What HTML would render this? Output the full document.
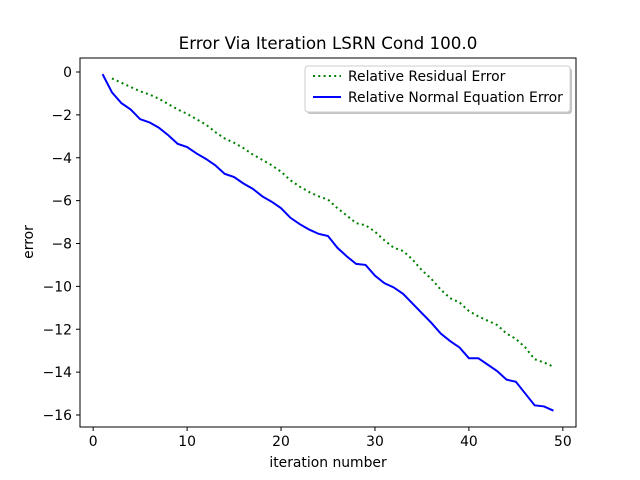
<!DOCTYPE html>
<html><head><meta charset="utf-8"><style>
body{margin:0;background:#fff}
svg{display:block;font-family:"DejaVu Sans","Liberation Sans",sans-serif}
</style></head><body>
<svg id="c" width="640" height="480">
<rect width="640" height="480" fill="#fff"/>
<text x="328" y="49" text-anchor="middle" font-size="16.7">Error Via Iteration LSRN Cond 100.0</text>
<g id="plot"></g>
<rect x="80" y="58" width="496" height="369" fill="none" stroke="#000" stroke-width="1"/>
<text x="328" y="467" text-anchor="middle" font-size="13.9">iteration number</text>
<text transform="translate(33,242) rotate(-90)" text-anchor="middle" font-size="13.9">error</text>
<g>
<rect x="307" y="68" width="265" height="46" rx="3" fill="#888" opacity="0.5"/>
<rect x="305" y="66" width="265" height="46" rx="3" fill="#fff" stroke="#ccc"/>
<line x1="313" y1="76" x2="341" y2="76" stroke="green" stroke-width="2" stroke-dasharray="2,3.3"/>
<text x="348" y="81" font-size="13.9">Relative Residual Error</text>
<line x1="313" y1="97" x2="341" y2="97" stroke="blue" stroke-width="2"/>
<text x="348" y="102" font-size="13.9">Relative Normal Equation Error</text>
</g>
</svg>
<script>
const xTicks=[0,10,20,30,40,50];
const yTicks=[0,-2,-4,-6,-8,-10,-12,-14,-16];
const blueX=[1,2,3,4,5,6,7,8,9,10,11,12,13,14,15,16,17,18,19,20,21,22,23,24,25,26,27,28,29,30,31,32,33,34,35,36,37,38,39,40,41,42,43,44,45,46,47,48,49];
const blueY=[-0.1,-0.95,-1.45,-1.75,-2.2,-2.35,-2.6,-2.95,-3.35,-3.5,-3.8,-4.05,-4.35,-4.75,-4.9,-5.2,-5.45,-5.8,-6.05,-6.35,-6.8,-7.1,-7.35,-7.55,-7.65,-8.2,-8.6,-8.95,-9.0,-9.5,-9.85,-10.05,-10.35,-10.8,-11.25,-11.7,-12.2,-12.55,-12.85,-13.35,-13.35,-13.65,-13.95,-14.35,-14.45,-15.0,-15.55,-15.6,-15.8];
const greenX=[2,3,4,5,6,7,8,9,10,11,12,13,14,15,16,17,18,19,20,21,22,23,24,25,26,27,28,29,30,31,32,33,34,35,36,37,38,39,40,41,42,43,44,45,46,47,48,49];
const greenY=[-0.3,-0.5,-0.7,-0.9,-1.05,-1.25,-1.5,-1.75,-1.95,-2.2,-2.45,-2.8,-3.1,-3.3,-3.55,-3.85,-4.1,-4.35,-4.65,-5.05,-5.35,-5.6,-5.8,-5.95,-6.35,-6.7,-7.05,-7.15,-7.45,-7.85,-8.2,-8.35,-8.75,-9.25,-9.65,-10.15,-10.55,-10.75,-11.15,-11.4,-11.6,-11.8,-12.2,-12.45,-12.85,-13.4,-13.55,-13.75];
const NS="http://www.w3.org/2000/svg";
const L=80,R=576,T=58,B=427,xmin=-1.4,xmax=51.4;
function sx(v){return L+(v-xmin)/(xmax-xmin)*(R-L);}
function sy(v){return 72-v*(415-72)/16;}
const g=document.getElementById('plot');
function mk(t,a){const e=document.createElementNS(NS,t);for(const k in a)e.setAttribute(k,a[k]);g.appendChild(e);return e;}
xTicks.forEach(v=>{
 const l=mk('line',{x1:sx(v),x2:sx(v),y1:B,y2:B+4,stroke:'#000'});
 
 
 const t=mk('text',{x:sx(v),y:B+19,'text-anchor':'middle','font-size':13.9});
 
 
 t.textContent=v;
});
yTicks.forEach(v=>{
 const l=mk('line',{x1:L-4,x2:L,y1:sy(v),y2:sy(v),stroke:'#000'});
 
 
 const t=mk('text',{x:L-8,y:sy(v)+5,'text-anchor':'end','font-size':13.9});
 
 
 t.textContent=v===0?'0':'\u2212'+Math.abs(v);
});
const gp=mk('polyline',{points:greenX.map((x,i)=>sx(x)+','+sy(greenY[i])).join(' '),fill:'none',stroke:'green','stroke-width':2,'stroke-dasharray':'2,3.3'});


const bp=mk('polyline',{points:blueX.map((x,i)=>sx(x)+','+sy(blueY[i])).join(' '),fill:'none',stroke:'blue','stroke-width':2});


</script>
</body></html>
